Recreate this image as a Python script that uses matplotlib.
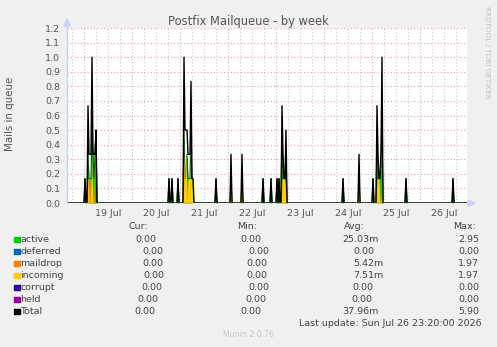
import numpy as np
import pandas as pd
import matplotlib
matplotlib.use('Agg')
import matplotlib.pyplot as plt
from matplotlib.patches import Rectangle, Polygon

# --- data (30 minute samples, values in mails) ---
t_start = '2026-07-18 15:30'
t_end = '2026-07-26 23:30'

spike_times = [
    '2026-07-19 00:30', '2026-07-19 02:00', '2026-07-19 02:30', '2026-07-19 03:00',
    '2026-07-19 03:30', '2026-07-19 04:00', '2026-07-19 04:30', '2026-07-19 05:00',
    '2026-07-19 05:30', '2026-07-19 06:00',
    '2026-07-20 18:30', '2026-07-20 20:00', '2026-07-20 23:00',
    '2026-07-21 02:00', '2026-07-21 02:30', '2026-07-21 03:00', '2026-07-21 03:30',
    '2026-07-21 04:00', '2026-07-21 04:30', '2026-07-21 05:00', '2026-07-21 05:30',
    '2026-07-21 06:00', '2026-07-21 06:30', '2026-07-21 18:00',
    '2026-07-22 01:30', '2026-07-22 07:00', '2026-07-22 17:30', '2026-07-22 21:30',
    '2026-07-23 00:30', '2026-07-23 01:30', '2026-07-23 03:00', '2026-07-23 03:30',
    '2026-07-23 04:00', '2026-07-23 04:30', '2026-07-23 05:00',
    '2026-07-24 09:30', '2026-07-24 17:30',
    '2026-07-25 00:30', '2026-07-25 02:30', '2026-07-25 03:00', '2026-07-25 03:30',
    '2026-07-25 04:00', '2026-07-25 04:30', '2026-07-25 05:00', '2026-07-25 17:00',
    '2026-07-26 16:30',
]
active = [
    0.167, 0.333, 0.167, 0.167, 0.167, 0.5, 0.333, 0.167, 0.333, 0.5,
    0.167, 0.167, 0.167,
    0.5, 0.167, 0.167, 0.333, 0.167, 0.167, 0.167, 0.5, 0.0, 0.0, 0.167,
    0.167, 0.167, 0.167, 0.167,
    0.167, 0.167, 0.5, 0.167, 0.0, 0.0, 0.333,
    0.167, 0.167,
    0.167, 0.5, 0.167, 0.0, 0.167, 0.333, 0.5, 0.167,
    0.167,
]
incoming = [
    0.0, 0.167, 0.0, 0.0, 0.167, 0.167, 0.0, 0.0, 0.0, 0.0,
    0.0, 0.0, 0.0,
    0.167, 0.167, 0.333, 0.0, 0.167, 0.167, 0.167, 0.167, 0.167, 0.167, 0.0,
    0.167, 0.167, 0.0, 0.0,
    0.0, 0.0, 0.167, 0.167, 0.167, 0.167, 0.0,
    0.0, 0.167,
    0.0, 0.167, 0.167, 0.167, 0.0, 0.0, 0.167, 0.0,
    0.0,
]
maildrop = [
    0.0, 0.167, 0.167, 0.167, 0.0, 0.333, 0.0, 0.167, 0.0, 0.0,
    0.0, 0.0, 0.0,
    0.333, 0.167, 0.0, 0.167, 0.0, 0.0, 0.0, 0.167, 0.0, 0.0, 0.0,
    0.0, 0.0, 0.0, 0.0,
    0.0, 0.0, 0.0, 0.0, 0.0, 0.0, 0.167,
    0.0, 0.0,
    0.0, 0.0, 0.0, 0.0, 0.0, 0.0, 0.333, 0.0,
    0.0,
]

day_labels = ['19 Jul', '20 Jul', '21 Jul', '22 Jul', '23 Jul', '24 Jul', '25 Jul', '26 Jul']
y_ticks = [0.0, 0.1, 0.2, 0.3, 0.4, 0.5, 0.6, 0.7, 0.8, 0.9, 1.0, 1.1, 1.2]

legend_names = ['active', 'deferred', 'maildrop', 'incoming', 'corrupt', 'held', 'Total']
legend_colors = ['#00cc00', '#0066b3', '#ff8000', '#ffcc00', '#330099', '#990099', '#000000']
cur_vals = ['0.00', '0.00', '0.00', '0.00', '0.00', '0.00', '0.00']
min_vals = ['0.00', '0.00', '0.00', '0.00', '0.00', '0.00', '0.00']
avg_vals = ['25.03m', '0.00', '5.42m', '7.51m', '0.00', '0.00', '37.96m']
max_vals = ['2.95', '0.00', '1.97', '1.97', '0.00', '0.00', '5.90']

# --- build the series ---
idx = pd.date_range(t_start, t_end, freq='30min')
df = pd.DataFrame(0.0, index=idx, columns=['active', 'incoming', 'maildrop'])
st = pd.to_datetime(spike_times)
df.loc[st, 'active'] = active
df.loc[st, 'incoming'] = incoming
df.loc[st, 'maildrop'] = maildrop
df['total'] = df[['active', 'incoming', 'maildrop']].sum(axis=1)

W, H = 497, 347
fig = plt.figure(figsize=(W / 100, H / 100), dpi=100)
fig.patch.set_facecolor('#f0f0f0')


def fx(x):
    return x / W


def fy(y):
    return 1 - y / H


ax = fig.add_axes([fx(67), fy(203), fx(467) - fx(67), fy(28) - fy(203)])
ax.set_facecolor('white')
ax.set_xlim(idx[0], idx[-1])
ax.set_ylim(0, 1.2)
for s in ax.spines.values():
    s.set_visible(False)

# grid
days = pd.date_range('2026-07-19', '2026-07-26', freq='D')
quarter = pd.date_range('2026-07-18 18:00', '2026-07-26 18:00', freq='6h')
for q in quarter:
    if q.hour != 0:
        ax.axvline(q, color='#c8c8c8', lw=0.8, ls=(0, (1, 2)), zorder=0)
for d in days:
    ax.axvline(d, color='#e8a0a0', lw=0.8, ls=(0, (1, 2)), zorder=0)
for v in y_ticks[1:]:
    ax.axhline(v, color='#e8a0a0', lw=0.8, ls=(0, (1, 2)), zorder=0)

x = df.index
ax.fill_between(x, 0, df['active'], color='#00cc00', lw=0, zorder=2)
ax.plot(x, df['active'], color='#006600', lw=0.8, zorder=2)
ax.fill_between(x, 0, df['maildrop'], color='#ff8000', lw=0, zorder=3)
ax.fill_between(x, 0, df['incoming'], color='#ffcc00', lw=0, zorder=3)
ax.plot(x, df['total'], color='black', lw=1.0, zorder=4)

# axis lines with arrows
ax.axhline(0, color='#9090b0', lw=1.0, zorder=5)
ax.plot([0, 0], [0, 1.25], transform=ax.get_yaxis_transform(), color='#c8d0f8',
        lw=1.0, clip_on=False, zorder=5)
fig.add_artist(Polygon([[fx(64), fy(26)], [fx(70), fy(26)], [fx(67), fy(19)]],
                       closed=True, color='#c8d0f8', transform=fig.transFigure))
fig.add_artist(Polygon([[fx(468), fy(200)], [fx(468), fy(206.5)], [fx(475), fy(203.3)]],
                       closed=True, color='#c8d0f8', transform=fig.transFigure))
fig.add_artist(plt.Line2D([fx(467), fx(469)], [fy(203.3), fy(203.3)], color='#c8d0f8',
                          lw=1.0, transform=fig.transFigure))

ax.set_yticks(y_ticks)
ax.set_yticklabels([f'{v:.1f}' for v in y_ticks])
noon = pd.date_range('2026-07-19 12:00', periods=len(day_labels), freq='D')
ax.set_xticks(noon)
ax.set_xticklabels(day_labels)
ax.tick_params(axis='x', length=0, pad=4, labelsize=6.8, colors='#555555')
ax.tick_params(axis='y', length=0, pad=5, labelsize=6.8, colors='#555555')

txt = dict(fontsize=6.8, color='#444444')
fig.text(fx(248), fy(21), 'Postfix Mailqueue - by week', ha='center', va='center',
         fontsize=8.3, color='#555555')
fig.text(fx(10), fy(114), 'Mails in queue', rotation=90, ha='center', va='center',
         fontsize=7.4, color='#555555')
fig.text(fx(487), fy(52), 'RRDTOOL / TOBI OETIKER', rotation=270, ha='center', va='center',
         fontsize=5.2, color='#c0c0c0')

# legend table
fig.text(fx(148), fy(226.7), 'Cur:', ha='right', va='center', **txt)
fig.text(fx(257), fy(226.7), 'Min:', ha='right', va='center', **txt)
fig.text(fx(365), fy(226.7), 'Avg:', ha='right', va='center', **txt)
fig.text(fx(476.5), fy(226.7), 'Max:', ha='right', va='center', **txt)

row_y = [239.3, 251.3, 263.3, 275.3, 287.3, 299.3, 311.3]
cur_x = [135, 142.7, 142.7, 143.3, 141.7, 137.3, 134.3]
min_x = [240, 248.3, 246, 246.7, 248.3, 245, 240]
avg_x = [342.3, 353.3, 353.3, 353.3, 352.7, 351.7, 342.3]
for i, name in enumerate(legend_names):
    y = row_y[i]
    fig.add_artist(Rectangle((fx(14), fy(y + 2.8)), fx(5.5), fy(0) - fy(5.5),
                             color=legend_colors[i], transform=fig.transFigure))
    fig.text(fx(20.5), fy(y), name, ha='left', va='center', **txt)
    fig.text(fx(cur_x[i]), fy(y), cur_vals[i], ha='left', va='center', **txt)
    fig.text(fx(min_x[i]), fy(y), min_vals[i], ha='left', va='center', **txt)
    fig.text(fx(avg_x[i]), fy(y), avg_vals[i], ha='left', va='center', **txt)
    fig.text(fx(479.3), fy(y), max_vals[i], ha='right', va='center', **txt)

fig.text(fx(482), fy(323.3), 'Last update: Sun Jul 26 23:20:00 2026', ha='right',
         va='center', **txt)
fig.text(fx(248), fy(334.7), 'Munin 2.0.76', ha='center', va='center', fontsize=5.6,
         color='#c8c8c8')

fig.savefig('out.png', dpi=100, facecolor=fig.get_facecolor())
